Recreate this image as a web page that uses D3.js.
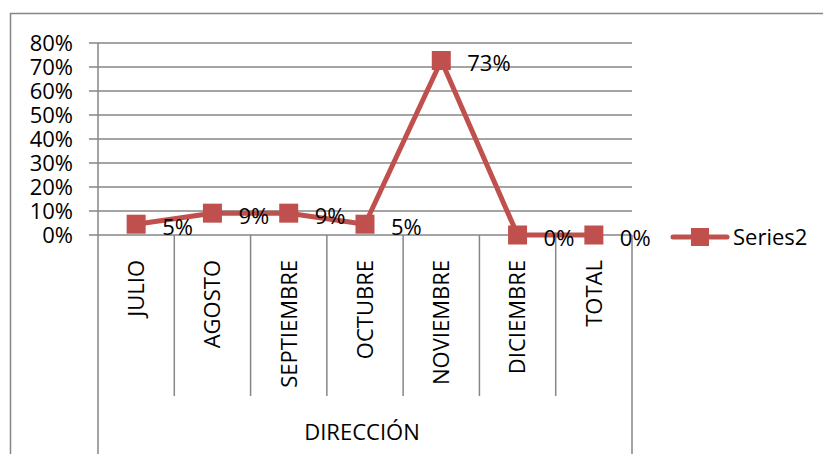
<!DOCTYPE html>
<html>
<head>
<meta charset="utf-8">
<script src="https://d3js.org/d3.v7.min.js"></script>
<style>
  body { margin: 0; background: #fff; }
  text { font-family: "Open Sans", sans-serif; fill: #000; }
</style>
</head>
<body>
<div id="chart"></div>
<script>
const categories = ["JULIO", "AGOSTO", "SEPTIEMBRE", "OCTUBRE", "NOVIEMBRE", "DICIEMBRE", "TOTAL"];
const values = [0.045, 0.091, 0.091, 0.045, 0.727, 0, 0];
const yTicks = [0, 0.1, 0.2, 0.3, 0.4, 0.5, 0.6, 0.7, 0.8];
const seriesName = "Series2";
const axisTitle = "DIRECCIÓN";

const W = 823, H = 454;
const red = "#C0504D", grey = "#868686";
const plotL = 98, plotR = 632, plotT = 43, plotB = 235;
const fs = 22;

const svg = d3.select("#chart").append("svg")
  .attr("width", W).attr("height", H);

// chart frame
svg.append("rect")
  .attr("x", 10.5).attr("y", 13.5)
  .attr("width", W + 20).attr("height", H + 20)
  .attr("fill", "none").attr("stroke", grey).attr("stroke-width", 1.5);

const x = d3.scaleBand().domain(categories).range([plotL, plotR]);
const y = d3.scaleLinear().domain([0, 0.8]).range([plotB, plotT]);

// gridlines + y labels
svg.append("g").selectAll("line").data(yTicks).join("line")
  .attr("x1", plotL - 9).attr("x2", plotR)
  .attr("y1", d => y(d)).attr("y2", d => y(d))
  .attr("stroke", grey).attr("stroke-width", 1.5);

svg.append("g").selectAll("text").data(yTicks).join("text")
  .attr("x", 73).attr("y", d => y(d))
  .attr("text-anchor", "end").attr("dy", "0.36em")
  .attr("font-size", fs)
  .text(d => d3.format(".0%")(d));

// y axis line, continues as outer category border
svg.append("line").attr("x1", plotL).attr("x2", plotL)
  .attr("y1", plotT).attr("y2", H)
  .attr("stroke", grey).attr("stroke-width", 1.5);
svg.append("line").attr("x1", plotR).attr("x2", plotR)
  .attr("y1", plotB).attr("y2", H)
  .attr("stroke", grey).attr("stroke-width", 1.5);

// inner category separators
svg.append("g").selectAll("line").data(categories.slice(1)).join("line")
  .attr("x1", d => x(d)).attr("x2", d => x(d))
  .attr("y1", plotB).attr("y2", 396)
  .attr("stroke", grey).attr("stroke-width", 1.5);

// category labels (rotated)
svg.append("g").selectAll("text").data(categories).join("text")
  .attr("transform", d => `translate(${x(d) + x.bandwidth() / 2},260) rotate(-90)`)
  .attr("text-anchor", "end").attr("dy", "0.36em")
  .attr("font-size", fs)
  .text(d => d);

svg.append("text")
  .attr("x", (plotL + plotR) / 2 - 3).attr("y", 440)
  .attr("text-anchor", "middle").attr("font-size", fs)
  .text(axisTitle);

// series line
const pts = categories.map((c, i) => [x(c) + x.bandwidth() / 2, y(values[i])]);
svg.append("path")
  .attr("d", d3.line()(pts))
  .attr("fill", "none").attr("stroke", red).attr("stroke-width", 5)
  .attr("stroke-linejoin", "round");

const ms = 19;
svg.append("g").selectAll("rect").data(pts).join("rect")
  .attr("x", d => d[0] - ms / 2).attr("y", d => d[1] - ms / 2)
  .attr("width", ms).attr("height", ms).attr("fill", red);

// data labels
svg.append("g").selectAll("text").data(pts).join("text")
  .attr("x", d => d[0] + 26).attr("y", d => d[1] + 3)
  .attr("dy", "0.36em").attr("font-size", fs)
  .text((d, i) => d3.format(".0%")(values[i]));

// legend
const ly = 237;
svg.append("line").attr("x1", 673).attr("x2", 727)
  .attr("y1", ly).attr("y2", ly)
  .attr("stroke", red).attr("stroke-width", 5).attr("stroke-linecap", "round");
svg.append("rect").attr("x", 700 - 9).attr("y", ly - 9)
  .attr("width", 18).attr("height", 18).attr("fill", red);
svg.append("text").attr("x", 733).attr("y", ly)
  .attr("dy", "0.36em").attr("font-size", fs)
  .text(seriesName);
</script>
</body>
</html>
